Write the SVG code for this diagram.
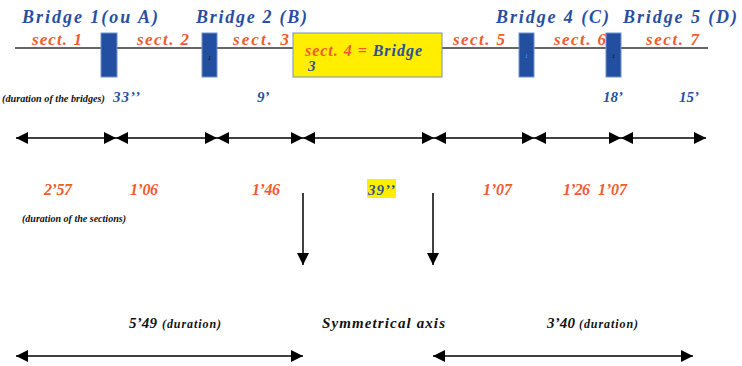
<svg xmlns="http://www.w3.org/2000/svg" width="742" height="366" viewBox="0 0 742 366">
<style>
.title{font-family:"Liberation Serif",serif;font-weight:bold;font-style:italic;font-size:18px;fill:#2a4f9f}
.sect{font-family:"Liberation Serif",serif;font-weight:bold;font-style:italic;font-size:17px;fill:#f05a30}
.bd{font-family:"Liberation Serif",serif;font-weight:bold;font-style:italic;font-size:15px;fill:#2a4f9f}
.sd{font-family:"Liberation Serif",serif;font-weight:bold;font-style:italic;font-size:16px;fill:#f05a30}
.note{font-family:"Liberation Serif",serif;font-weight:bold;font-style:italic;font-size:10px;fill:#111}
.big{font-family:"Liberation Serif",serif;font-weight:bold;font-style:italic;font-size:15px;fill:#111}
.small{font-family:"Liberation Serif",serif;font-weight:bold;font-style:italic;font-size:12px;fill:#111}
.bridge{fill:#234fa0;stroke:#6f8fcf;stroke-width:1}
.tiny{font-family:"Liberation Serif",serif;font-style:italic;font-size:6px}
.arr{stroke:#000;stroke-width:1.5;fill:none}
</style>
<defs>
<marker id="ah" viewBox="0 0 12 12" refX="12" refY="6" markerWidth="12" markerHeight="12" markerUnits="userSpaceOnUse" orient="auto-start-reverse">
<path d="M0,0 L12,6 L0,12 z" fill="#000"/>
</marker>
</defs>
<line x1="15" y1="48" x2="708" y2="48" stroke="#333" stroke-width="1.5"/>
<g id="bridge1"><rect class="bridge" x="101" y="33" width="16" height="44"/></g>
<g id="bridge2"><rect class="bridge" x="202" y="33" width="15" height="44"/><text class="tiny" x="208" y="60" fill="#000">1</text></g>
<g id="section4"><rect x="293" y="33" width="149" height="44" fill="#ffee00" stroke="#7a8fb8" stroke-width="1"/>
<text x="305" y="56" font-family="Liberation Serif,serif" font-style="italic" font-weight="bold" font-size="16" textLength="117" lengthAdjust="spacing"><tspan fill="#f05a30">sect. 4 = </tspan><tspan fill="#2a4f9f">Bridge</tspan></text>
<text class="bd" x="308" y="71" font-size="11">3</text></g>
<g id="bridge4"><rect class="bridge" x="519" y="33" width="15" height="44"/><text class="tiny" x="525" y="58" fill="#29b6f6">1</text></g>
<g id="bridge5"><rect class="bridge" x="606" y="33" width="15" height="44"/><text class="tiny" x="612" y="58" fill="#000">1</text></g>
<g id="titles">
<text class="title" x="22" y="23" textLength="136" lengthAdjust="spacing">Bridge 1(ou A)</text>
<text class="title" x="196" y="23" textLength="111" lengthAdjust="spacing">Bridge 2 (B)</text>
<text class="title" x="496" y="23" textLength="113" lengthAdjust="spacing">Bridge 4 (C)</text>
<text class="title" x="623" y="23" textLength="114" lengthAdjust="spacing">Bridge 5 (D)</text>
</g>
<g id="sections">
<text class="sect" x="32" y="45" textLength="50" lengthAdjust="spacing">sect. 1</text>
<text class="sect" x="137" y="45" textLength="52" lengthAdjust="spacing">sect. 2</text>
<text class="sect" x="233" y="45" textLength="56" lengthAdjust="spacing">sect. 3</text>
<text class="sect" x="453" y="45" textLength="52" lengthAdjust="spacing">sect. 5</text>
<text class="sect" x="554" y="45" textLength="52" lengthAdjust="spacing">sect. 6</text>
<text class="sect" x="646" y="45" textLength="53" lengthAdjust="spacing">sect. 7</text>
</g>
<g id="bridge-durations">
<text class="note" x="2" y="102" textLength="103" lengthAdjust="spacingAndGlyphs">(duration of the bridges)</text>
<text class="bd" x="113" y="102" textLength="27" lengthAdjust="spacing">33’’</text>
<text class="bd" x="257" y="102">9’</text>
<text class="bd" x="603" y="102">18’</text>
<text class="bd" x="679" y="102">15’</text>
</g>
<g id="connectors">
<line class="arr" x1="16" y1="138" x2="116" y2="138" marker-start="url(#ah)" marker-end="url(#ah)"/>
<line class="arr" x1="116" y1="138" x2="217" y2="138" marker-start="url(#ah)" marker-end="url(#ah)"/>
<line class="arr" x1="217" y1="138" x2="303" y2="138" marker-start="url(#ah)" marker-end="url(#ah)"/>
<line class="arr" x1="303" y1="138" x2="434" y2="138" marker-start="url(#ah)" marker-end="url(#ah)"/>
<line class="arr" x1="434" y1="138" x2="534" y2="138" marker-start="url(#ah)" marker-end="url(#ah)"/>
<line class="arr" x1="534" y1="138" x2="621" y2="138" marker-start="url(#ah)" marker-end="url(#ah)"/>
<line class="arr" x1="621" y1="138" x2="706" y2="138" marker-start="url(#ah)" marker-end="url(#ah)"/>
<line class="arr" x1="303" y1="193" x2="303" y2="265" marker-end="url(#ah)"/>
<line class="arr" x1="433" y1="193" x2="433" y2="265" marker-end="url(#ah)"/>
<line class="arr" x1="16" y1="356" x2="303" y2="356" marker-start="url(#ah)" marker-end="url(#ah)"/>
<line class="arr" x1="433" y1="356" x2="693" y2="356" marker-start="url(#ah)" marker-end="url(#ah)"/>
</g>
<g id="section-durations">
<text class="sd" x="44" y="195" textLength="28" lengthAdjust="spacing">2’57</text>
<text class="sd" x="130" y="195" textLength="28" lengthAdjust="spacing">1’06</text>
<text class="sd" x="252" y="195" textLength="28" lengthAdjust="spacing">1’46</text>
<rect x="367" y="179" width="29" height="19" fill="#ffee00"/>
<text class="bd" x="368" y="195" font-size="16" textLength="27" lengthAdjust="spacing">39’’</text>
<text class="sd" x="483" y="195" textLength="29" lengthAdjust="spacing">1’07</text>
<text class="sd" x="563" y="195" textLength="27" lengthAdjust="spacing">1’26</text>
<text class="sd" x="598" y="195" textLength="29" lengthAdjust="spacing">1’07</text>
<text class="note" x="22" y="222" textLength="104" lengthAdjust="spacingAndGlyphs">(duration of the sections)</text>
</g>
<g id="totals">
<text class="big" x="129" y="328" textLength="28" lengthAdjust="spacing">5’49</text>
<text class="small" x="162" y="328" textLength="59" lengthAdjust="spacing">(duration)</text>
<text class="big" x="322" y="328" textLength="123" lengthAdjust="spacing">Symmetrical axis</text>
<text class="big" x="547" y="328" textLength="28" lengthAdjust="spacing">3’40</text>
<text class="small" x="579" y="328" textLength="59" lengthAdjust="spacing">(duration)</text>
</g>
</svg>
